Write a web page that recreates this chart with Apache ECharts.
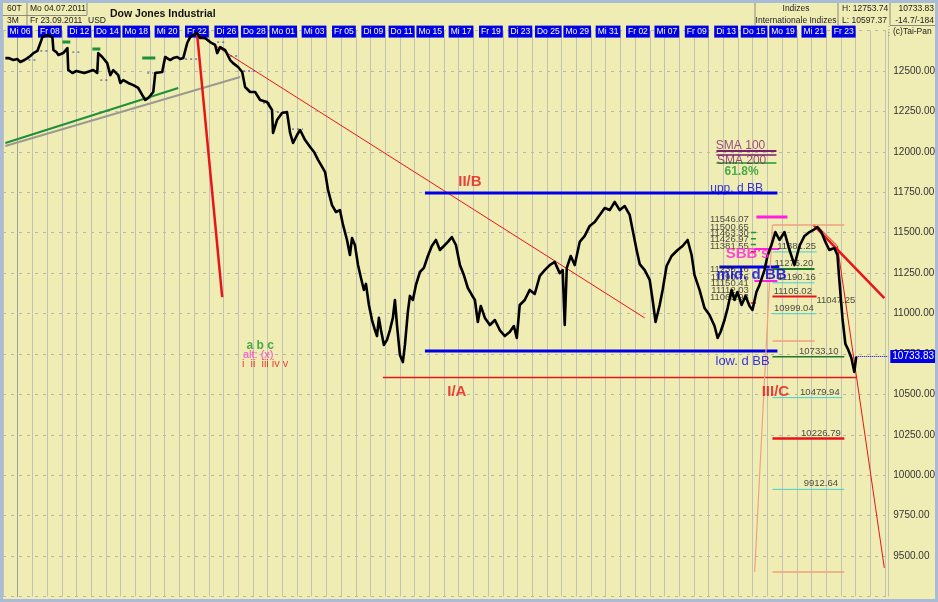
<!DOCTYPE html>
<html><head><meta charset="utf-8">
<script src="https://cdn.jsdelivr.net/npm/echarts@6/dist/echarts.min.js"></script>
<style>html,body{margin:0;padding:0;background:#f0edb4;}#c{width:938px;height:602px;}</style>
</head><body><div id="c"></div>
<script>
// ---- trading days (US calendar, 5 Jul .. 23 Sep 2011) ----
const dayLabels = ['Di 05','Mi 06','Do 07','Fr 08','Mo 11','Di 12','Mi 13','Do 14','Fr 15','Mo 18','Di 19','Mi 20','Do 21','Fr 22','Mo 25','Di 26','Mi 27','Do 28','Fr 29',
 'Mo 01','Di 02','Mi 03','Do 04','Fr 05','Mo 08','Di 09','Mi 10','Do 11','Fr 12','Mo 15','Di 16','Mi 17','Do 18','Fr 19','Mo 22','Di 23','Mi 24','Do 25','Fr 26','Mo 29','Di 30','Mi 31',
 'Do 01','Fr 02','Di 06','Mi 07','Do 08','Fr 09','Mo 12','Di 13','Mi 14','Do 15','Fr 16','Mo 19','Di 20','Mi 21','Do 22','Fr 23'];

// ---- Dow Jones price track: [trading-day index (fractional), price] ----
const priceTrack = [
[-0.84,12580],[-0.63,12580],[-0.29,12568],[-0.02,12574],[0.18,12556],[0.46,12568],[0.66,12580],[0.86,12593],[1.07,12611],[1.34,12624],
[1.54,12673],[1.68,12710],[2.02,12723],[2.22,12716],[2.36,12710],[2.43,12630],[2.63,12617],[2.77,12599],[3.10,12611],[3.38,12642],
[3.44,12506],[3.72,12488],[3.99,12500],[4.26,12494],[4.53,12488],[4.74,12494],[4.94,12500],[5.14,12506],[5.41,12488],[5.48,12611],
[5.75,12587],[6.09,12549],[6.30,12475],[6.50,12506],[6.84,12475],[6.98,12426],[7.18,12444],[7.52,12426],[7.86,12413],[8.20,12395],
[8.47,12352],[8.68,12321],[8.88,12333],[9.22,12370],[9.36,12488],[9.49,12494],[9.83,12494],[10.03,12587],[10.37,12568],[10.58,12580],
[10.85,12587],[11.05,12574],[11.26,12580],[11.53,12673],[11.73,12710],[11.94,12723],[12.21,12735],[12.41,12704],[12.75,12704],[13.09,12679],
[13.43,12661],[13.57,12611],[13.77,12648],[14.11,12630],[14.45,12568],[14.65,12549],[14.99,12525],[15.27,12494],[15.47,12401],[15.81,12370],
[16.15,12370],[16.49,12321],[16.96,12308],[17.30,12259],[17.37,12117],[17.64,12197],[17.98,12240],[18.32,12246],[18.53,12117],[18.73,12055],
[19.00,12104],[19.21,12135],[19.55,12073],[19.89,12030],
[20.16,11999],[20.43,11950],[20.63,11919],[20.91,11875],[21.11,11764],[21.38,11671],[21.65,11628],[21.92,11640],[22.13,11548],[22.40,11455],
[22.60,11362],[22.74,11467],[22.94,11424],[23.15,11300],[23.35,11220],[23.55,11146],[23.69,11183],[23.89,11053],[24.10,10960],[24.30,10898],
[24.44,10861],[24.57,10973],[24.71,10898],[24.91,10806],[25.12,10837],[25.32,10898],[25.52,10973],[25.66,11084],[25.80,10929],[26.00,10744],
[26.20,10700],[26.34,10806],[26.54,11010],[26.68,11109],[26.88,11084],[27.09,11177],[27.36,11257],[27.63,11282],[27.90,11356],[28.17,11418],
[28.45,11455],[28.72,11393],[28.99,11418],[29.26,11443],[29.53,11473],[29.81,11424],[30.08,11300],[30.35,11238],[30.62,11158],[30.89,11115],
[31.10,11084],[31.30,10948],[31.50,11047],[31.78,10973],[32.12,10929],[32.46,10960],[32.79,10898],[33.13,10861],[33.47,10886],[33.75,10923],
[33.95,10849],[34.15,11053],[34.49,11084],[34.83,11146],[35.17,11121],[35.51,11232],[35.85,11269],[36.19,11300],[36.53,11319],[36.87,11250],
[37.07,11269],[37.21,10929],[37.35,11282],[37.62,11356],[37.89,11300],[38.23,11443],[38.57,11480],[38.91,11542],[39.25,11566],[39.59,11610],
[39.93,11653],[40.27,11640],[40.61,11690],[40.95,11640],[41.29,11665],[41.63,11610],[41.83,11517],[42.10,11393],[42.31,11306],[42.65,11269],
[42.99,11208],[43.19,11084],[43.39,10948],[43.67,11053],[43.87,11146],[44.14,11294],[44.48,11356],[44.89,11393],[45.23,11418],[45.57,11455],
[45.84,11362],[46.04,11238],[46.38,11146],[46.72,11034],[47.06,10991],[47.40,10923],[47.61,10849],[47.81,10886],[48.08,10960],[48.29,11034],
[48.56,11146],[48.76,11084],[48.96,11133],[49.24,11053],[49.51,11109],[49.78,11047],[49.98,11022],[50.25,11133],[50.46,11177],[50.80,11269],
[51.00,11356],[51.27,11424],[51.54,11504],[51.82,11455],[52.16,11504],[52.50,11393],[52.84,11300],[53.18,11418],[53.52,11480],[53.86,11504],
[54.13,11517],[54.40,11535],[54.67,11504],[54.94,11443],[55.21,11393],[55.55,11405],[55.76,11362],[55.89,11208],[56.10,10973],[56.30,10812],
[56.50,10775],[56.71,10725],[56.91,10639],[57.04,10733.83]
];
const lastClose = 10733.83;
const periodHigh = 12753.74;
const periodLow = 10597.37;

// ---- session close markers (dotted): [start, end, price] ----
const closeMarkT0 = [0.73,1.54,3.72,5.62,8.81,11.39,13.57,14.45,15.33,16.69,17.64,18.66];
const closeMarkT1 = [1.34,2.22,4.26,6.16,9.22,12.21,14.25,15.13,16.28,17.37,18.32,19.41];
const closeMarkP  = [12568,12624,12617,12444,12488,12574,12679,12593,12500,12302,12246,12141];

// ---- drawn annotations in [day index, price] ----
const greenTrend = [[-0.84,12055],[10.92,12395]];
const grayTrend = [[-0.84,12036],[15.13,12463]];
const redSteep = [[12.21,12723],[13.91,11102]];
const redFan = [[12.41,12716],[42.65,10973]];
const upperBB = [[27.70,11746],[51.68,11746]];
const lowerBB = [[27.70,10768],[51.68,10768]];
const waveLow = [[24.84,10604],[57.05,10604]];
const midBB = [[47.73,11288],[51.81,11288]];
const sepThick = [[54.13,11548],[58.95,11096]];
const sepThin = [[54.40,11541],[55.76,11418],[58.95,9427]];
const salmonRise = [[50.13,9402],[51.34,11548]];
const salmonLevels = [[[51.34,11548],[56.23,11548]],[[51.34,10830],[54.20,10830]],[[51.34,9402],[56.23,9402]]];
const sbbTop = [[50.25,11597],[52.36,11597]];
const sbbUpper = [[50.11,11399],[51.81,11399]];
const sbbLower = [[50.11,11201],[51.67,11201]];
const smaLevels = [12005, 11981, 11931];
const smaSpan = [47.53, 51.61];
const greenDashes = [[[3.04,12679],[3.58,12679]],[[5.08,12636],[5.62,12636]],[[8.47,12580],[9.36,12580]]];

const leftFibLevels = [11546.07,11500.65,11463.30,11426.97,11381.55,11236.16,11190.76,11150.41,11112.03,11065.93];
const leftFibTickColor = [null,'#1f9a2a','#1f9a2a','#1f9a2a','#e8141b',null,null,null,null,'#e8141b'];
const leftFibT = 49.77;
const rightFibLevels = [11381.25,11276.20,11190.16,11105.02,11047.25,10999.04,10733.10,10479.94,10226.79,9912.64];
const rightFibLabelT = [53.02,52.83,53.02,52.76,55.69,52.83,54.53,54.60,54.67,54.67];
const rightFibLineEnd = [54.34,54.20,54.20,54.34,null,54.34,56.23,56.09,56.23,56.23];
const rightFibLineStart = 51.34;

const waveLabels = ['II/B','I/A','III/C'];
const waveLabelT = [30.76,29.87,51.54];
const waveLabelP = [11814,10515,10515];

// ---- styles ----
const RED='#e8141b', BLUE='#0000e6', CYAN='#3fd0d0', DGREEN='#1d7a2a', PURPLE='#7d1f6b', MAG='#ff1fe0', SALMON='#f0a080';
const rightFibColors = [CYAN,DGREEN,CYAN,RED,null,CYAN,DGREEN,CYAN,RED,CYAN];
const rightFibWidths = [1,2,1,2,0,1,1.5,1,2.5,1];
const FONT='Liberation Sans, Arial, sans-serif';

function seg(coords, color, width, type){ return {coords, lineStyle:{color, width, type: type||'solid', opacity:1}}; }
const segs = [
  seg(grayTrend,'#9a9a90',2), seg(greenTrend,'#1f8f3a',2),
  seg(redSteep,RED,2.5), seg(redFan,RED,1),
  seg(upperBB,BLUE,3), seg(lowerBB,BLUE,3), seg(waveLow,RED,1.5), seg(midBB,BLUE,3),
  seg(sepThick,RED,2.5), seg(sepThin,RED,1), seg(salmonRise,SALMON,1.2),
  seg(sbbTop,MAG,3), seg(sbbUpper,MAG,2), seg(sbbLower,MAG,2),
  seg([[smaSpan[0],smaLevels[0]],[smaSpan[1],smaLevels[0]]],PURPLE,2),
  seg([[smaSpan[0],smaLevels[1]],[smaSpan[1],smaLevels[1]]],PURPLE,1.5),
  seg([[smaSpan[0],smaLevels[2]],[smaSpan[1],smaLevels[2]]],'#1f9a2a',1.5)
];
salmonLevels.forEach(c=>segs.push(seg(c,SALMON,1.5)));
greenDashes.forEach(c=>segs.push(seg(c,'#1f8f3a',3)));
rightFibLevels.forEach((lv,i)=>{ if(rightFibLineEnd[i]!=null) segs.push(seg([[rightFibLineStart,lv],[rightFibLineEnd[i],lv]],rightFibColors[i],rightFibWidths[i])); });
leftFibLevels.forEach((lv,i)=>{ if(leftFibTickColor[i]) segs.push(seg([[leftFibT+0.1,lv],[leftFibT+0.45,lv]],leftFibTickColor[i],1.5)); });
closeMarkP.forEach((p,i)=>segs.push(seg([[closeMarkT0[i],p],[closeMarkT1[i],p]],'#3a3aa0',1,[2,3])));

function textSeries(items, label, z){
  return {type:'scatter', symbolSize:1, silent:true, z:z||8, itemStyle:{color:'rgba(0,0,0,0)'},
    data: items.map(it=>({value:[it[0],it[1]], label:{formatter:String(it[2])}})),
    label: Object.assign({show:true, position:'inside', fontFamily:FONT}, label)};
}

const series = [
  {type:'lines', coordinateSystem:'cartesian2d', polyline:true, silent:true, z:3, data:segs},
  {type:'line', data:priceTrack, symbol:'none', z:5, silent:true,
   lineStyle:{color:'#000', width:2.6, join:'round'},
   markLine:{symbol:['none','none'], silent:true, animation:false,
     lineStyle:{color:BLUE, type:'dotted', width:1},
     label:{show:true, position:'end', distance:2, formatter:lastClose.toFixed(2), color:'#fff', backgroundColor:BLUE,
            padding:[2,2,1,2], fontSize:10, fontFamily:FONT},
     data:[[{coord:[57.04,lastClose]},{coord:[59.22,lastClose]}]]}},
  textSeries(waveLabels.map((t,i)=>[waveLabelT[i],waveLabelP[i],t]), {color:RED, fontSize:15, fontWeight:'bold'}),
  textSeries([[48.90,11770,'upp. d BB']], {color:BLUE, fontSize:12}),
  textSeries([[49.31,10707,'low. d BB']], {color:BLUE, fontSize:13}),
  textSeries([[49.92,11238,'mid. d BB']], {color:BLUE, fontSize:15, fontWeight:'bold'}),
  textSeries([[49.64,11368,"SBB's"]], {color:MAG, fontSize:15, fontWeight:'bold'}),
  textSeries([[49.17,12036,'SMA 100'],[49.24,11943,'SMA 200']], {color:PURPLE, fontSize:12}),
  textSeries([[49.24,11875,'61.8%']], {color:'#1f9a2a', fontSize:12, fontWeight:'bold'}),
  textSeries([[16.50,10799,'a b c']], {color:'#1f9a2a', fontSize:12, fontWeight:'bold'}),
  textSeries([[16.36,10744,'alt: (x)']], {color:MAG, fontSize:11}),
  textSeries([[16.83,10688,'i  ii  iii iv v']], {color:RED, fontSize:11}),
  textSeries(leftFibLevels.map(lv=>[leftFibT,lv,lv.toFixed(2)]), {color:'#222', fontSize:9.5, position:[0,0], align:'right', verticalAlign:'bottom'}, 4),
  textSeries(rightFibLevels.map((lv,i)=>[rightFibLabelT[i],lv,lv.toFixed(2)]), {color:'#222', fontSize:9.5, position:[0,0], align:'center', verticalAlign:'bottom'}, 4)
];

const chart = echarts.init(document.getElementById('c'), null, {renderer:'canvas'});
const HF = '8.5px '+FONT;
const hdr = (x,y,text,opt)=>Object.assign({type:'text', x, y, silent:true, z:20,
   style:Object.assign({text, fill:'#222', font:HF, textVerticalAlign:'middle'}, opt||{})});
const ln = (x1,y1,x2,y2,c,d)=>({type:'line', silent:true, z:20, shape:{x1,y1,x2,y2}, style:{stroke:c||'#8a8a80', lineWidth:1, lineDash:d||null}});

chart.setOption({
  animation:false,
  backgroundColor:'#f0edb4',
  grid:{left:2.58, right:49, top:30.6, bottom:5.5, containLabel:false},
  xAxis:{type:'value', position:'top', min:-1, max:59.22, interval:1,
    axisLine:{show:false}, axisTick:{show:false},
    splitLine:{show:true, lineStyle:{color:'#c2c2b4', width:1}},
    axisLabel:{show:true, margin:-1, verticalAlign:'middle', align:'right', showMinLabel:true, showMaxLabel:false,
      formatter:v=>{ if(!Number.isInteger(v)||v<1||v>57||v%2!==1) return ''; return '{d|'+dayLabels[v]+'}'; },
      rich:{d:{backgroundColor:BLUE, color:'#fff', fontSize:8.5, fontFamily:FONT, padding:[2,2,1,2], lineHeight:10}}}},
  yAxis:{type:'value', position:'right', min:9250, max:12750, interval:250,
    axisLine:{show:true, lineStyle:{color:'#a0a098'}}, axisTick:{show:false},
    splitLine:{show:true, lineStyle:{color:'#b8b8aa', type:[3,5], width:1}},
    axisLabel:{margin:5, color:'#333', fontSize:10, fontFamily:FONT,
      formatter:v=>(v>12600||v<9400)?'':v.toFixed(2)}},
  series,
  graphic:[
    {type:'rect', silent:true, z:30, shape:{x:1.5,y:1.5,width:935,height:599}, style:{fill:null, stroke:'#a8bcd8', lineWidth:3}},
    ln(27,2,27,25), ln(3,15.5,87,15.5), ln(87,2,87,15),
    ln(755,2,755,25), ln(838,2,838,25), ln(890,2,890,25), ln(890,25.5,937,25.5), ln(889,26,889,37,'#8a8a80',[1,2]),
    hdr(7,9,'60T'), hdr(30,9,'Mo 04.07.2011'), hdr(7,21,'3M'), hdr(30,21,'Fr 23.09.2011'), hdr(88,21,'USD'),
    hdr(110,14,'Dow Jones Industrial',{font:'bold 10.5px '+FONT, fill:'#111'}),
    hdr(796,9,'Indizes',{textAlign:'center'}), hdr(796,21,'Internationale Indizes',{textAlign:'center'}),
    hdr(842,9,'H: '+periodHigh.toFixed(2)), hdr(842,21,'L: '+periodLow.toFixed(2)),
    hdr(934,9,lastClose.toFixed(2),{textAlign:'right'}), hdr(934,21,'-14.7/-184',{textAlign:'right'}),
    hdr(893,32,'(c)Tai-Pan')
  ]
});
</script></body></html>
